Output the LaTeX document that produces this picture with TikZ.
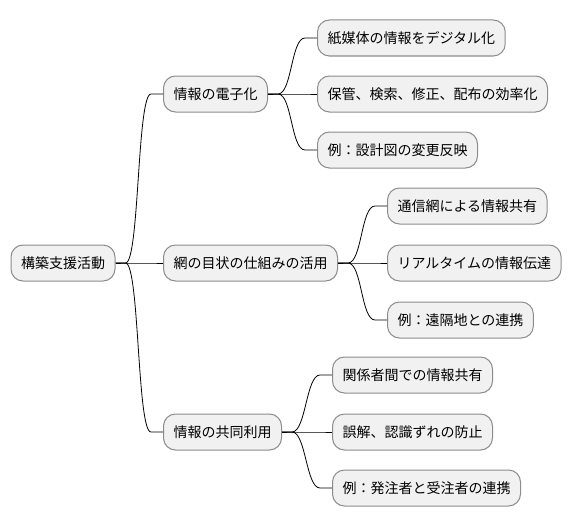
\documentclass[tikz,border=0pt]{standalone}
\usepackage{fontspec}
\setmainfont{Noto Sans CJK JP}
\usetikzlibrary{calc}
\definecolor{rahmen}{RGB}{140,140,140}
\definecolor{kasten}{RGB}{241,241,241}
\tikzset{
  knoten/.style={draw=rahmen, fill=kasten, line width=1pt, rounded corners=12pt,
    anchor=west, minimum height=36pt, inner xsep=10pt, inner ysep=0pt,
    font=\fontsize{14pt}{17pt}\selectfont},
  ast/.style={black, line width=0.8pt, to path={-- ++(10pt,0)
    .. controls +(14pt,0) and +(-14pt,0) .. ($(\tikztotarget)+(-12pt,0)$) -- (\tikztotarget)}}
}
\begin{document}
\begin{tikzpicture}[x=1pt, y=-1pt]

    \useasboundingbox (0,0) rectangle (572,527);

    \node[knoten] (wurzel) at (10.5,263) {構築支援活動};

		\node[knoten] (elek) at (163,94) {情報の電子化};
		\node[knoten] (netz) at (163,263) {網の目状の仕組みの活用};
		\node[knoten] (teil) at (163,432) {情報の共同利用};

		\node[knoten] (elek1) at (317,38) {紙媒体の情報をデジタル化};
		\node[knoten] (elek2) at (317,94) {保管、検索、修正、配布の効率化};
		\node[knoten] (elek3) at (317,150) {例：設計図の変更反映};

		\node[knoten] (netz1) at (387,206) {通信網による情報共有};
		\node[knoten] (netz2) at (387,263) {リアルタイムの情報伝達};
		\node[knoten] (netz3) at (387,320) {例：遠隔地との連携};

		\node[knoten] (teil1) at (332,375) {関係者間での情報共有};
		\node[knoten] (teil2) at (332,432) {誤解、認識ずれの防止};
		\node[knoten] (teil3) at (332,488) {例：発注者と受注者の連携};

    \foreach \k in {elek,netz,teil} {
      \draw[ast] (wurzel.east) to (\k.west);
      \foreach \i in {1,2,3}
        \draw[ast] (\k.east) to (\k\i.west);
    }

\end{tikzpicture}
\end{document}
